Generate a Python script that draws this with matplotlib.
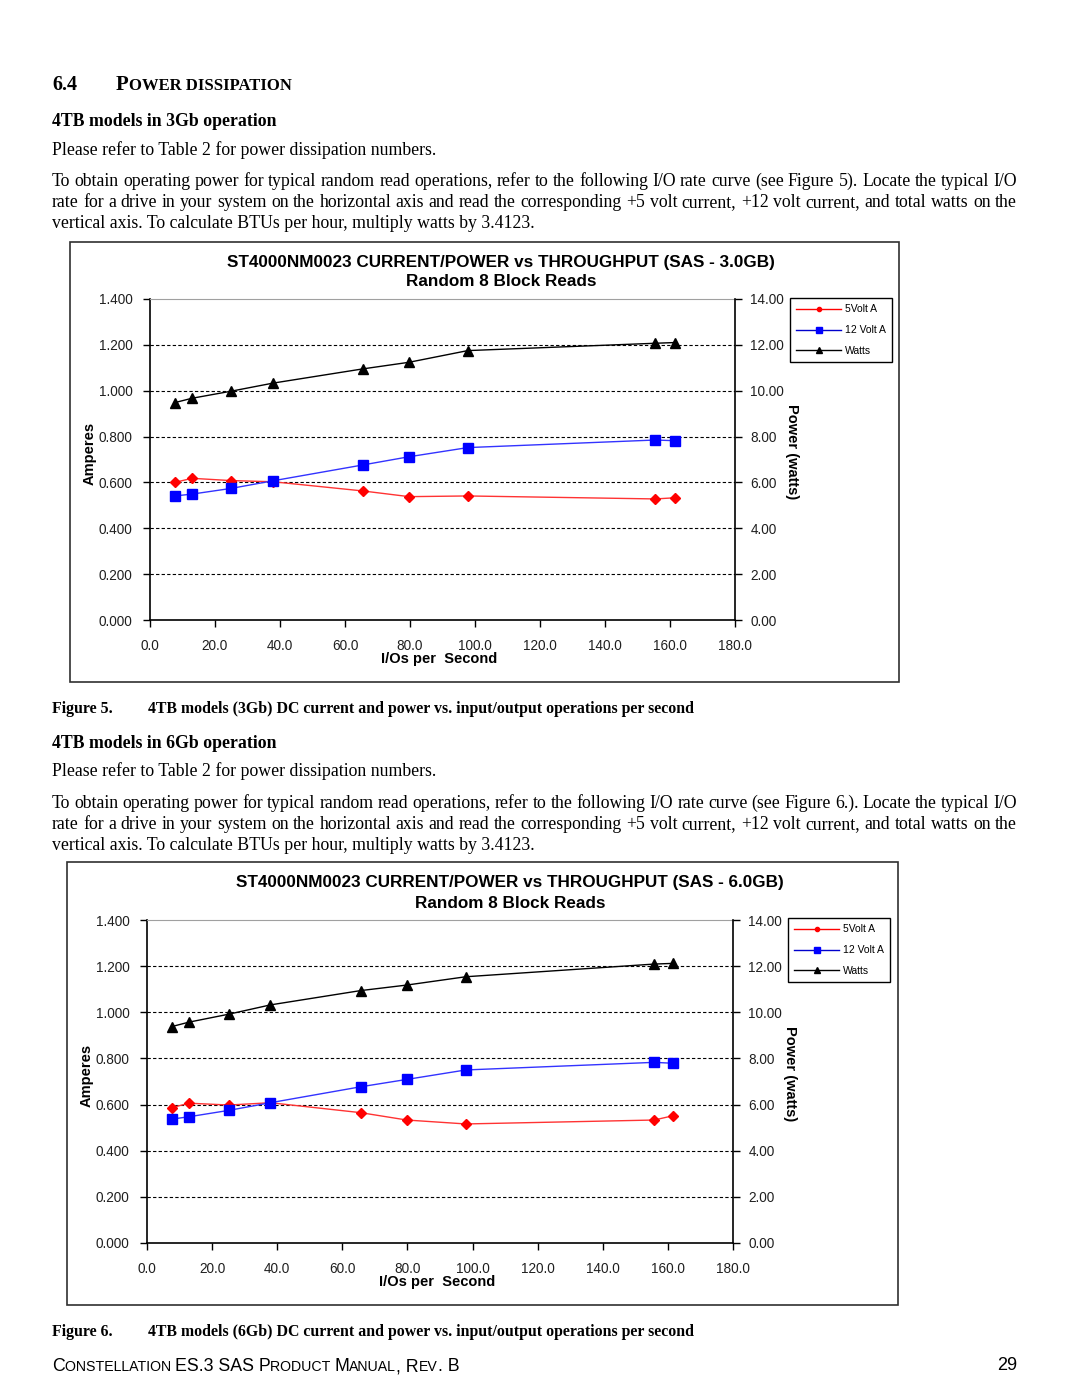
import matplotlib
matplotlib.use("Agg")
import matplotlib.pyplot as plt
from matplotlib.patches import Rectangle
from matplotlib.lines import Line2D

W, H = 1080, 1397

# values
io_3gb = [7.6, 12.9, 25.0, 37.8, 65.4, 79.7, 97.8, 155.5, 161.4]
amps_5v_3gb = [0.600, 0.618, 0.608, 0.603, 0.563, 0.538, 0.541, 0.528, 0.533]
amps_12v_3gb = [0.541, 0.549, 0.574, 0.607, 0.676, 0.712, 0.752, 0.785, 0.782]
watts_3gb = [9.48, 9.67, 9.98, 10.33, 10.95, 11.24, 11.75, 12.07, 12.10]

io_6gb = [7.6, 12.8, 25.2, 37.9, 65.6, 79.8, 97.9, 155.8, 161.7]
amps_5v_6gb = [0.586, 0.606, 0.598, 0.608, 0.565, 0.533, 0.516, 0.533, 0.552]
amps_12v_6gb = [0.537, 0.547, 0.575, 0.608, 0.677, 0.709, 0.750, 0.783, 0.779]
watts_6gb = [9.38, 9.57, 9.92, 10.32, 10.94, 11.18, 11.54, 12.09, 12.12]

x_ticks = [0, 20, 40, 60, 80, 100, 120, 140, 160, 180]
amp_ticks = [0.0, 0.2, 0.4, 0.6, 0.8, 1.0, 1.2, 1.4]
watt_ticks = [0, 2, 4, 6, 8, 10, 12, 14]
series_names = ["5Volt A", "12 Volt A", "Watts"]

para_3gb = ["To obtain operating power for typical random read operations, refer to the following I/O rate curve (see Figure 5). Locate the typical I/O",
            "rate for a drive in your system on the horizontal axis and read the corresponding +5 volt current, +12 volt current, and total watts on the",
            "vertical axis. To calculate BTUs per hour, multiply watts by 3.4123."]
para_6gb = ["To obtain operating power for typical random read operations, refer to the following I/O rate curve (see Figure 6.). Locate the typical I/O",
            "rate for a drive in your system on the horizontal axis and read the corresponding +5 volt current, +12 volt current, and total watts on the",
            "vertical axis. To calculate BTUs per hour, multiply watts by 3.4123."]

SERIF = "Liberation Serif"
SANS = "Liberation Sans"
BODY = 12.8

fig = plt.figure(figsize=(W / 100, H / 100), dpi=100)
renderer = fig.canvas.get_renderer()


def fx(x):
    return x / W


def fy(y):
    return 1 - y / H


def width_of(t):
    return t.get_window_extent(renderer).width


def runs(x, y, parts, family):
    # small caps style: pieces of text in different sizes along one baseline
    for s, size, weight in parts:
        t = fig.text(fx(x), fy(y), s, fontsize=size, weight=weight, family=family, va="baseline")
        x += width_of(t)


def paragraph(x0, x1, y0, step, lines, size=BODY):
    for i, line in enumerate(lines):
        y = y0 + i * step
        if i == len(lines) - 1:
            fig.text(fx(x0), fy(y), line, fontsize=size, family=SERIF, va="center")
            continue
        words = line.split()
        texts = [fig.text(0, fy(y), w, fontsize=size, family=SERIF, va="center") for w in words]
        widths = [width_of(t) for t in texts]
        gap = (x1 - x0 - sum(widths)) / (len(words) - 1)
        x = x0
        for t, w in zip(texts, widths):
            t.set_x(fx(x))
            x += w + gap


def chart(box, plot, title_y, title_x, title, io, a5, a12, watts, leg):
    bx0, by0, bx1, by1 = box
    fig.patches.append(Rectangle((fx(bx0), fy(by1)), (bx1 - bx0) / W, (by1 - by0) / H,
                                 transform=fig.transFigure, fill=False, ec="#303030", lw=1.2))
    px0, py0, px1, py1 = plot
    ax = fig.add_axes([fx(px0), fy(py1), (px1 - px0) / W, (py1 - py0) / H])
    ax.set_xlim(0, 180)
    ax.set_ylim(0, 1.4)
    ax.set_xticks(x_ticks)
    ax.set_xticklabels([f"{v:.1f}" for v in x_ticks])
    ax.set_yticks(amp_ticks)
    ax.set_yticklabels([f"{v:.3f}" for v in amp_ticks])
    ax.tick_params(axis="both", direction="out", length=5, width=1, labelsize=9.8,
                   labelcolor="#202020", labelfontfamily=SANS)
    ax.tick_params(axis="y", pad=7.5)
    ax.tick_params(axis="x", pad=9)
    for v in amp_ticks[1:-1]:
        ax.axhline(v, color="black", lw=0.8, ls=(0, (3, 2)), zorder=1)
    ax.spines["right"].set_visible(False)
    ax.spines["top"].set_color("#a0a0a0")
    ax.spines["left"].set_linewidth(1.2)
    ax.spines["bottom"].set_linewidth(1.2)

    ax2 = ax.twinx()
    ax2.set_ylim(0, 14)
    ax2.set_yticks(watt_ticks)
    ax2.set_yticklabels([f"{v:.2f}" for v in watt_ticks])
    ax2.tick_params(axis="y", direction="out", length=5, width=1, labelsize=9.8, pad=6,
                    labelcolor="#202020", labelfontfamily=SANS)
    for s in ["top", "left", "bottom"]:
        ax2.spines[s].set_visible(False)
    ax2.spines["right"].set_linewidth(1.2)

    ax.plot(io, a5, color="#ff3333", lw=1, marker="D", ms=5.5, mfc="#ff0000", mec="#ff0000", zorder=3)
    ax.plot(io, a12, color="#3333ff", lw=1, marker="s", ms=7.5, mfc="#0000ff", mec="#0000ff", zorder=3)
    ax2.plot(io, watts, color="black", lw=1, marker="^", ms=7.5, zorder=3)

    cx = (px0 + px1) / 2
    fig.text(fx(title_x), fy(title_y), title, ha="center", va="center", fontsize=12.3,
             weight="bold", family=SANS)
    fig.text(fx(title_x), fy(title_y + 20), "Random 8 Block Reads", ha="center", va="center",
             fontsize=12.3, weight="bold", family=SANS)
    fig.text(fx(cx - 3), fy(py1 + 39), "I/Os per  Second", ha="center", va="center",
             fontsize=10.5, weight="bold", family=SANS)
    fig.text(fx(px0 - 60), fy((py0 + py1) / 2 - 6), "Amperes", rotation=90, ha="center",
             va="center", fontsize=10.5, weight="bold", family=SANS)
    fig.text(fx(px1 + 57), fy((py0 + py1) / 2 - 8), "Power (watts)", rotation=270, ha="center",
             va="center", fontsize=10.5, weight="bold", family=SANS)

    handles = [Line2D([], [], color="#ff0000", lw=1, marker="o", ms=3),
               Line2D([], [], color="#0000cc", lw=1, marker="s", ms=5, mfc="#0000ff", mec="#0000ff"),
               Line2D([], [], color="black", lw=1, marker="^", ms=5)]
    lg = fig.legend(handles, series_names, loc="upper left", bbox_to_anchor=(fx(leg[0]), fy(leg[1])),
                    fancybox=False, edgecolor="black", framealpha=1, handlelength=4.3,
                    borderpad=0.6, labelspacing=1.05, handletextpad=0.4, borderaxespad=0,
                    prop={"family": SANS, "size": 7.5})
    lg.get_frame().set_linewidth(1)


# page header and text
runs(52, 90, [("6.4", 14.5, "bold")], SERIF)
runs(116, 90, [("P", 15, "bold"), ("OWER DISSIPATION", 12, "bold")], SERIF)

fig.text(fx(52), fy(121), "4TB models in 3Gb operation", fontsize=12.8, weight="bold", family=SERIF, va="center")
fig.text(fx(52), fy(150), "Please refer to Table 2 for power dissipation numbers.", fontsize=BODY, family=SERIF, va="center")
paragraph(52, 1017, 181, 21.5, para_3gb)

chart((70, 242, 899, 682), (150, 299, 735, 620), 262, 501,
      "ST4000NM0023 CURRENT/POWER vs THROUGHPUT (SAS - 3.0GB)",
      io_3gb, amps_5v_3gb, amps_12v_3gb, watts_3gb, (790, 298))

fig.text(fx(52), fy(709), "Figure 5.", fontsize=11.4, weight="bold", family=SERIF, va="center")
fig.text(fx(148), fy(709), "4TB models (3Gb) DC current and power vs. input/output operations per second",
         fontsize=11.4, weight="bold", family=SERIF, va="center")

fig.text(fx(52), fy(743), "4TB models in 6Gb operation", fontsize=12.8, weight="bold", family=SERIF, va="center")
fig.text(fx(52), fy(771), "Please refer to Table 2 for power dissipation numbers.", fontsize=BODY, family=SERIF, va="center")
paragraph(52, 1017, 803, 21.5, para_6gb)

chart((67, 862, 898, 1305), (147, 920, 733, 1243), 883, 510,
      "ST4000NM0023 CURRENT/POWER vs THROUGHPUT (SAS - 6.0GB)",
      io_6gb, amps_5v_6gb, amps_12v_6gb, watts_6gb, (788, 918))

fig.text(fx(52), fy(1332), "Figure 6.", fontsize=11.4, weight="bold", family=SERIF, va="center")
fig.text(fx(148), fy(1332), "4TB models (6Gb) DC current and power vs. input/output operations per second",
         fontsize=11.4, weight="bold", family=SERIF, va="center")

# footer
runs(52, 1371, [("C", 12.8, "normal"), ("ONSTELLATION ", 10.2, "normal"), ("ES.3 SAS P", 12.8, "normal"),
                ("RODUCT ", 10.2, "normal"), ("M", 12.8, "normal"), ("ANUAL", 10.2, "normal"),
                (", R", 12.8, "normal"), ("EV", 10.2, "normal"), (". B", 12.8, "normal")], SANS)
fig.text(fx(1017), fy(1365), "29", fontsize=13, family=SANS, ha="right", va="center")

fig.savefig("out.png", dpi=100)
